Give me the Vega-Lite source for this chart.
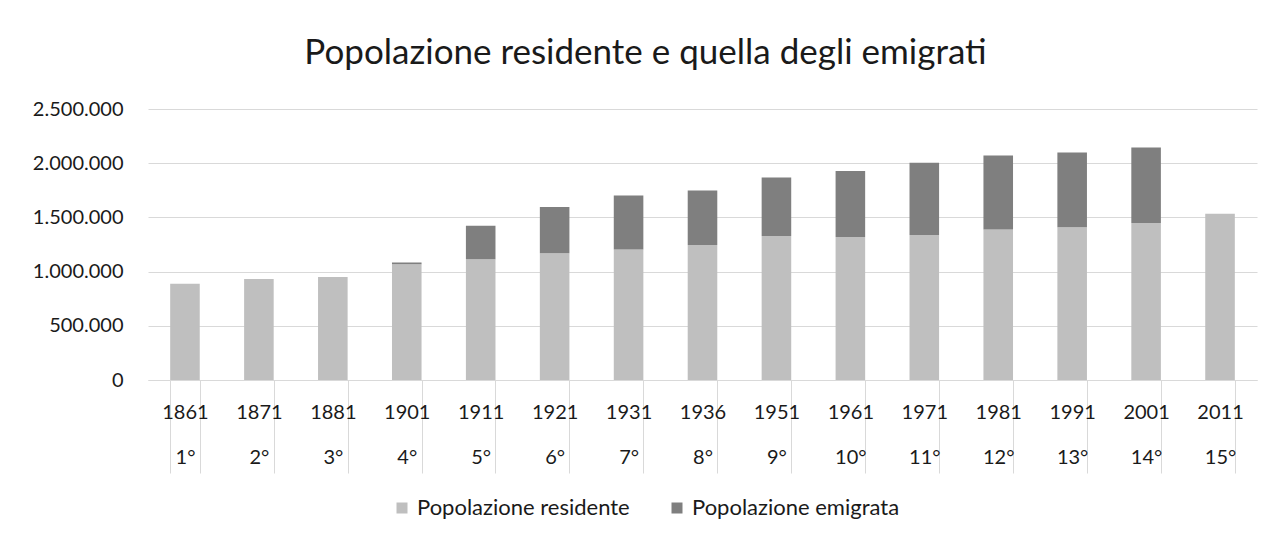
{
  "$schema": "https://vega.github.io/schema/vega-lite/v6.json",
  "autosize": "none",
  "width": 1109,
  "height": 271,
  "padding": {"left": 148, "top": 109, "right": 14, "bottom": 163},
  "background": "white",
  "title": {
    "text": "Popolazione residente e quella degli emigrati",
    "anchor": "middle",
    "dx": -57,
    "fontSize": 35,
    "font": "Lato",
    "fontWeight": "normal",
    "color": "#1a1a1a",
    "baseline": "alphabetic",
    "offset": 0
  },
  "config": {
    "locale": {"number": {"decimal": ",", "thousands": ".", "grouping": [3], "currency": ["€", ""]}},
    "view": {"stroke": null},
    "font": "Lato"
  },
  "data": {
    "values": [
      {"cat": "1861|1°", "serie": "Popolazione residente", "valore": 889000},
      {"cat": "1871|2°", "serie": "Popolazione residente", "valore": 932000},
      {"cat": "1881|3°", "serie": "Popolazione residente", "valore": 951000},
      {"cat": "1901|4°", "serie": "Popolazione residente", "valore": 1067000},
      {"cat": "1901|4°", "serie": "Popolazione emigrata", "valore": 16000},
      {"cat": "1911|5°", "serie": "Popolazione residente", "valore": 1113000},
      {"cat": "1911|5°", "serie": "Popolazione emigrata", "valore": 310000},
      {"cat": "1921|6°", "serie": "Popolazione residente", "valore": 1169000},
      {"cat": "1921|6°", "serie": "Popolazione emigrata", "valore": 426000},
      {"cat": "1931|7°", "serie": "Popolazione residente", "valore": 1205000},
      {"cat": "1931|7°", "serie": "Popolazione emigrata", "valore": 497000},
      {"cat": "1936|8°", "serie": "Popolazione residente", "valore": 1245000},
      {"cat": "1936|8°", "serie": "Popolazione emigrata", "valore": 503000},
      {"cat": "1951|9°", "serie": "Popolazione residente", "valore": 1328000},
      {"cat": "1951|9°", "serie": "Popolazione emigrata", "valore": 540000},
      {"cat": "1961|10°", "serie": "Popolazione residente", "valore": 1319000},
      {"cat": "1961|10°", "serie": "Popolazione emigrata", "valore": 610000},
      {"cat": "1971|11°", "serie": "Popolazione residente", "valore": 1337000},
      {"cat": "1971|11°", "serie": "Popolazione emigrata", "valore": 666000},
      {"cat": "1981|12°", "serie": "Popolazione residente", "valore": 1389000},
      {"cat": "1981|12°", "serie": "Popolazione emigrata", "valore": 681000},
      {"cat": "1991|13°", "serie": "Popolazione residente", "valore": 1408000},
      {"cat": "1991|13°", "serie": "Popolazione emigrata", "valore": 690000},
      {"cat": "2001|14°", "serie": "Popolazione residente", "valore": 1448000},
      {"cat": "2001|14°", "serie": "Popolazione emigrata", "valore": 696000},
      {"cat": "2011|15°", "serie": "Popolazione residente", "valore": 1534000}
    ]
  },
  "mark": {"type": "bar"},
  "encoding": {
    "x": {
      "field": "cat",
      "type": "nominal",
      "sort": null,
      "scale": {"paddingInner": 0.6, "paddingOuter": 0.3},
      "axis": {
        "title": null,
        "labelAngle": 0,
        "labelExpr": "split(datum.label, '|')",
        "labelFontSize": 20,
        "labelColor": "#1a1a1a",
        "labelLineHeight": 45,
        "labelBaseline": "top",
        "labelPadding": -71,
        "tickBand": "extent",
        "tickSize": 93,
        "tickColor": "#d9d9d9",
        "domainColor": "#d9d9d9",
        "labelFont": "Lato"
      }
    },
    "y": {
      "field": "valore",
      "type": "quantitative",
      "stack": "zero",
      "scale": {"domain": [0, 2500000], "nice": false},
      "axis": {
        "title": null,
        "values": [0, 500000, 1000000, 1500000, 2000000, 2500000],
        "format": ",d",
        "domain": false,
        "ticks": false,
        "gridColor": "#d9d9d9",
        "labelFontSize": 20,
        "labelColor": "#1a1a1a",
        "labelPadding": 25,
        "labelFont": "Lato"
      }
    },
    "color": {
      "field": "serie",
      "type": "nominal",
      "scale": {"domain": ["Popolazione residente", "Popolazione emigrata"], "range": ["#bfbfbf", "#7f7f7f"]},
      "legend": {
        "title": null,
        "orient": "none",
        "legendX": 243,
        "legendY": 388,
        "direction": "horizontal",
        "symbolType": "square",
        "symbolSize": 121,
        "symbolStrokeWidth": 0,
        "labelFontSize": 22,
        "labelLimit": 0,
        "labelColor": "#1a1a1a",
        "labelFont": "Lato",
        "columnPadding": 36,
        "labelOffset": 4
      }
    },
    "order": {"field": "serie", "sort": "descending"}
  }
}
